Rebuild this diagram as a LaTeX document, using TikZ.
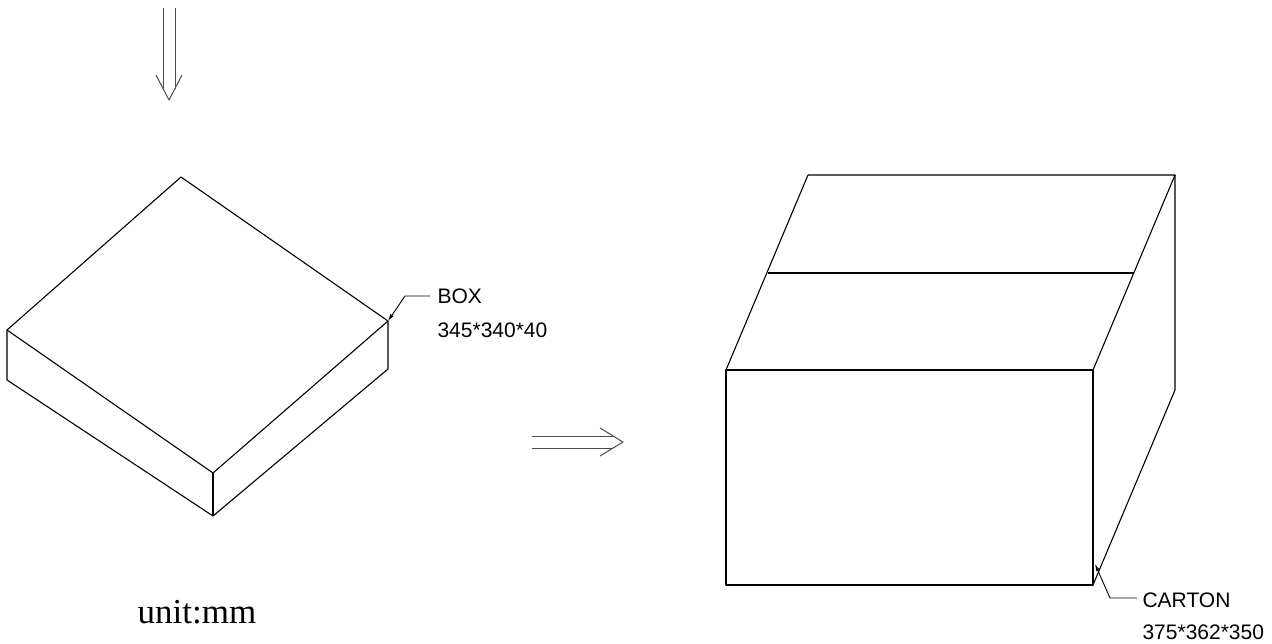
\documentclass[tikz,border=0pt]{standalone}
\usepackage{fontspec}
\setmainfont{Liberation Serif}
\newfontfamily\arialfont{Liberation Sans}
\usetikzlibrary{arrows.meta}

\begin{document}
\begin{tikzpicture}[x=1pt,y=-1pt,line width=1.1pt,line join=round]
\tikzstyle{every node}=[inner sep=0pt]
\tikzstyle{lbl}=[font=\arialfont\fontsize{21}{25}\selectfont, anchor=west]
\tikzstyle{lead}=[line width=0.9pt, -{Latex[length=7pt,width=4pt]}]
\tikzstyle{pointer}=[line width=1pt, gray!60!black]
\useasboundingbox (0,0) rectangle (1272,644);
% down arrow
  \coordinate (dA) at (163,8);
  \coordinate (dB) at (175,8);
  \coordinate (dTip) at (169,100);
  \draw[pointer] (dA) -- (163,89) (dB) -- (175,89);
  \draw[pointer] (156,75) -- (dTip) -- (182,75);
% right arrow
  \coordinate (rA) at (532,436);
  \coordinate (rB) at (532,448);
  \coordinate (rTip) at (623,442);
  \draw[pointer] (rA) -- (613,436) (rB) -- (613,448);
  \draw[pointer] (600,428) -- (rTip) -- (600,456);
% box
  \coordinate (bT) at (181,177);
  \coordinate (bL) at (7,330);
  \coordinate (bF) at (213,473);
  \coordinate (bR) at (388,321);
  \coordinate (bLd) at (7,380);
  \coordinate (bFd) at (213,516);
  \coordinate (bRd) at (388,369);
  \draw (bT) -- (bR) -- (bF) -- (bL) -- cycle;
  \draw (bL) -- (bLd) -- (bFd) -- (bRd) -- (bR);
  \draw (bF) -- (bFd);
  \node[lbl] (boxname) at (437,296) {BOX};
  \node[lbl] (boxsize) at (437,330) {345*340*40};
  \coordinate (bLead) at (430,296);
  \draw[lead] (bLead) -- (405,296) -- (bR);
% carton
  \coordinate (cBL) at (726,585);
  \coordinate (cFL) at (726,370);
  \coordinate (cFR) at (1093,370);
  \coordinate (cBR) at (1093,585);
  \coordinate (cTL) at (808,175);
  \coordinate (cTR) at (1175,175);
  \coordinate (cRD) at (1175,390);
  \draw (cFL) rectangle (cBR);
  \draw (cFL) -- (cTL) -- (cTR) -- (cFR);
  \draw (cTR) -- (cRD) -- (cBR);
  \draw (768,273) -- (1134,273);
  \node[lbl] (cartonname) at (1142,600) {CARTON};
  \node[lbl] (cartonsize) at (1142,632) {375*362*350};
  \coordinate (cLead) at (1137,598);
  \draw[lead] (cLead) -- (1110,598) -- (1095,564);
% unit
  \node (unit) at (197,612) {\fontsize{35}{40}\selectfont unit:mm};
\end{tikzpicture}
\end{document}
